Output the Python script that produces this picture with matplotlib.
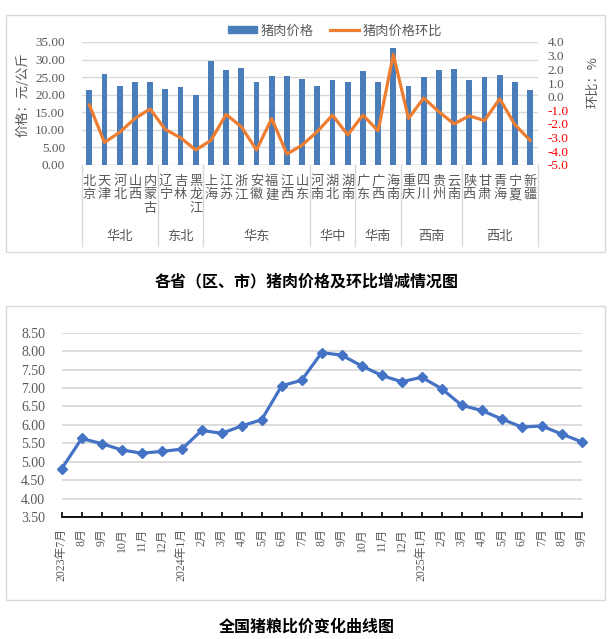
import numpy as np
import matplotlib
matplotlib.use("Agg")
import matplotlib.pyplot as plt
from matplotlib.patches import Patch, Rectangle
from matplotlib.lines import Line2D

plt.rcParams['font.family'] = ['Noto Sans CJK SC', 'DejaVu Sans']

# ---- data: top chart ----
provinces = ['北京', '天津', '河北', '山西', '内蒙古',
             '辽宁', '吉林', '黑龙江',
             '上海', '江苏', '浙江', '安徽', '福建', '江西', '山东',
             '河南', '湖北', '湖南',
             '广东', '广西', '海南',
             '重庆', '四川', '贵州', '云南',
             '陕西', '甘肃', '青海', '宁夏', '新疆']
regions = ['华北', '东北', '华东', '华中', '华南', '西南', '西北']
region_sizes = [5, 3, 7, 3, 3, 4, 5]
pork_price = [21.4, 26.0, 22.6, 23.7, 23.7,
              21.6, 22.2, 20.0,
              29.7, 26.9, 27.5, 23.7, 25.2, 25.2, 24.6,
              22.6, 24.3, 23.7,
              26.7, 23.5, 33.3,
              22.5, 24.9, 27.0, 27.2,
              24.1, 24.9, 25.6, 23.7, 21.4]
pork_mom = [-0.6, -3.35, -2.6, -1.6, -0.9,
            -2.4, -3.0, -3.9,
            -3.2, -1.3, -2.2, -3.9, -1.6, -4.2, -3.55,
            -2.55, -1.35, -2.8,
            -1.35, -2.5, 3.1,
            -1.6, -0.1, -1.1, -2.0,
            -1.4, -1.75, -0.15, -2.05, -3.2]

# ---- data: bottom chart ----
months = ['2023年7月', '8月', '9月', '10月', '11月', '12月',
          '2024年1月', '2月', '3月', '4月', '5月', '6月', '7月', '8月',
          '9月', '10月', '11月', '12月',
          '2025年1月', '2月', '3月', '4月', '5月', '6月', '7月', '8月', '9月']
hog_grain = [4.81, 5.63, 5.49, 5.32, 5.23, 5.28,
             5.34, 5.85, 5.77, 5.97, 6.14, 7.06, 7.21, 7.96,
             7.89, 7.60, 7.34, 7.17,
             7.29, 6.98, 6.53, 6.39, 6.16, 5.94, 5.97, 5.75, 5.54]

W, H = 615, 639
fig = plt.figure(figsize=(W / 100, H / 100), dpi=100)


def box(x0, y0, x1, y1):
    # pixel box (top-left origin) -> figure fraction rect
    return [x0 / W, 1 - y1 / H, (x1 - x0) / W, (y1 - y0) / H]


grey = '#595959'
grid_c = '#D9D9D9'
num_font = ['Liberation Serif', 'Noto Sans CJK SC']

# frames
for y0, y1 in [(15, 252), (306, 600)]:
    fig.patches.append(Rectangle((6 / W, 1 - y1 / H), 599 / W, (y1 - y0) / H,
                                 transform=fig.transFigure, fill=False,
                                 edgecolor=grid_c, lw=1))

# ---- top chart ----
ax = fig.add_axes(box(81.7, 42, 537.7, 165))
x = np.arange(len(provinces))
ax.bar(x, pork_price, width=0.38, color='#4A7EBB', zorder=2)
ax.set_xlim(-0.5, len(provinces) - 0.5)
ax.set_ylim(0, 35)
ax.set_yticks(np.arange(0, 36, 5))
ax.set_yticklabels([f'{v:.2f}' for v in np.arange(0, 36, 5)],
                   family=num_font, fontsize=9.5, color=grey)
ax.grid(axis='y', color=grid_c, lw=1)
ax.set_axisbelow(True)
ax.tick_params(axis='y', length=0, pad=12)
ax.set_xticks(x)
ax.set_xticklabels(['\n'.join(p) for p in provinces], fontsize=9.5,
                   color=grey, linespacing=1.05, va='top')
ax.tick_params(axis='x', length=0, pad=7)
for s in ax.spines.values():
    s.set_visible(False)

# region labels and separators
xt = ax.get_xaxis_transform()
start = -0.5
ax.plot([start, start], [0, -0.66], color=grid_c, lw=1, transform=xt, clip_on=False)
for name, n in zip(regions, region_sizes):
    end = start + n
    ax.plot([end, end], [0, -0.66], color=grid_c, lw=1, transform=xt, clip_on=False)
    ax.text((start + end) / 2, -0.585, name, transform=xt, ha='center',
            va='center', fontsize=9.5, color=grey)
    start = end

ax2 = ax.twinx()
ax2.plot(x, pork_mom, color='#ED7D31', lw=2.3, zorder=3)
ax2.set_ylim(-5, 4)
rt = np.arange(-5, 4.1, 1)
ax2.set_yticks(rt)
ax2.set_yticklabels([f'{v:.1f}' for v in rt], family=num_font, fontsize=9.5)
for lab, v in zip(ax2.get_yticklabels(), rt):
    lab.set_color('#FF0000' if v < 0 else grey)
ax2.tick_params(axis='y', length=0, pad=7)
for s in ax2.spines.values():
    s.set_visible(False)

fig.text(23 / W, 1 - 95 / H, '价格：元/公斤', rotation=90, ha='center',
         va='center', fontsize=9.5, color=grey)
fig.text(593 / W, 1 - 82 / H, '环比：%', rotation=90, ha='center',
         va='center', fontsize=9.5, color=grey)

handles = [Patch(color='#4A7EBB'), Line2D([], [], color='#ED7D31', lw=2.3)]
leg = fig.legend(handles, ['猪肉价格', '猪肉价格环比'], loc='center',
                 bbox_to_anchor=(335 / W, 1 - 31 / H), ncol=2, frameon=False,
                 fontsize=9.5, handlelength=2.2, handleheight=0.45,
                 columnspacing=1.2, handletextpad=0.3)
for t in leg.get_texts():
    t.set_color(grey)

fig.text(307 / W, 1 - 281 / H, '各省（区、市）猪肉价格及环比增减情况图',
         ha='center', va='center', fontsize=11.5, fontweight='bold', color='black')

# ---- bottom chart ----
ax3 = fig.add_axes(box(61.7, 332.7, 581.7, 517))
xm = np.arange(len(months))
ax3.plot(xm, hog_grain, color='#4472C4', lw=2.3, marker='D', markersize=5,
         clip_on=False, zorder=3)
ax3.set_xlim(0, len(months) - 1)
ax3.set_ylim(3.5, 8.5)
yt = np.arange(3.5, 8.51, 0.5)
ax3.set_yticks(yt)
ax3.set_yticklabels([f'{v:.2f}' for v in yt], family=num_font, fontsize=10,
                    color=grey)
ax3.grid(axis='y', color=grid_c, lw=1.3)
ax3.set_axisbelow(True)
ax3.tick_params(axis='y', length=0, pad=12)
ax3.set_xticks(xm)
ax3.set_xticklabels(months, rotation=90, fontsize=8.5, color=grey,
                    family=num_font)
ax3.tick_params(axis='x', direction='in', length=3.5, width=1.2,
                color='black', pad=8)
for k in ['left', 'right', 'top']:
    ax3.spines[k].set_visible(False)
ax3.spines['bottom'].set_color('black')
ax3.spines['bottom'].set_linewidth(1.3)

fig.text(307 / W, 1 - 627 / H, '全国猪粮比价变化曲线图', ha='center',
         va='center', fontsize=11.5, fontweight='bold', color='black')

fig.savefig('out.png', dpi=100)
